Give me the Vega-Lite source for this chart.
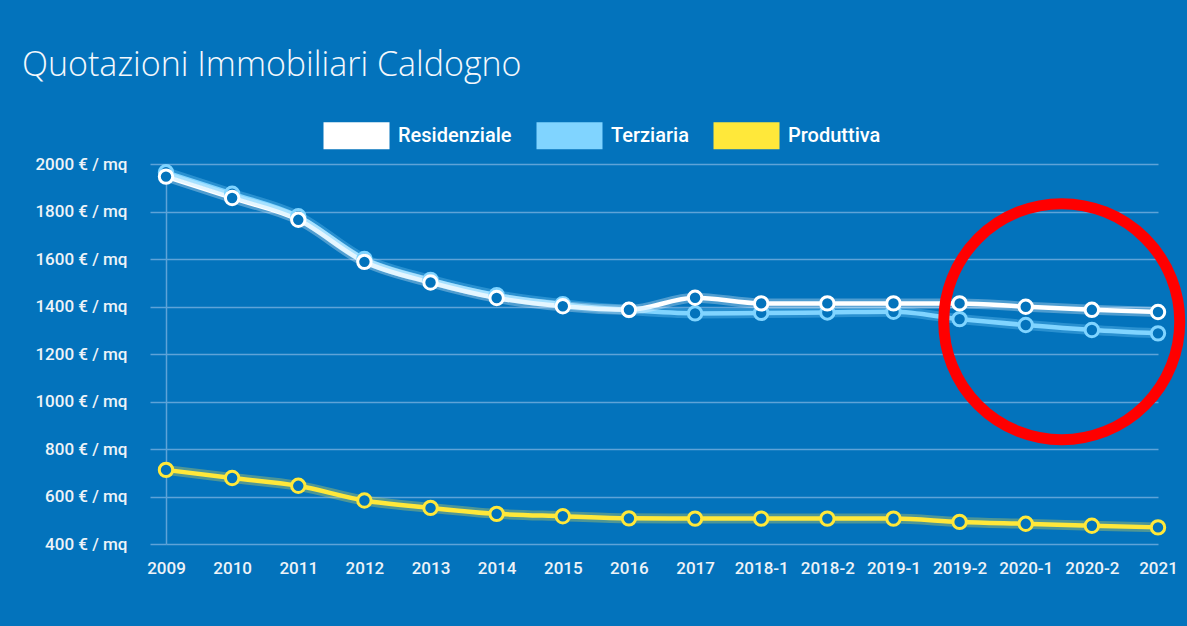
{
  "$schema": "https://vega.github.io/schema/vega-lite/v6.json",
  "autosize": {"type": "none"},
  "width": 992,
  "height": 380,
  "padding": {"left": 166, "top": 164, "right": 29, "bottom": 82},
  "background": "#0373BC",
  "title": {
    "text": "Quotazioni Immobiliari Caldogno",
    "anchor": "start",
    "frame": "group",
    "font": "Open Sans",
    "fontWeight": 300,
    "fontSize": 34,
    "color": "#F4F8FC",
    "baseline": "alphabetic",
    "dx": -144,
    "offset": 0,
    "dy": 21
  },
  "config": {
    "view": {"stroke": null},
    "font": "Roboto"
  },
  "data": {
    "values": [
      {"periodo": "2009", "serie": "Produttiva", "valore": 712},
      {"periodo": "2010", "serie": "Produttiva", "valore": 678},
      {"periodo": "2011", "serie": "Produttiva", "valore": 645},
      {"periodo": "2012", "serie": "Produttiva", "valore": 583},
      {"periodo": "2013", "serie": "Produttiva", "valore": 552},
      {"periodo": "2014", "serie": "Produttiva", "valore": 527},
      {"periodo": "2015", "serie": "Produttiva", "valore": 517},
      {"periodo": "2016", "serie": "Produttiva", "valore": 508},
      {"periodo": "2017", "serie": "Produttiva", "valore": 507},
      {"periodo": "2018-1", "serie": "Produttiva", "valore": 507},
      {"periodo": "2018-2", "serie": "Produttiva", "valore": 507},
      {"periodo": "2019-1", "serie": "Produttiva", "valore": 507},
      {"periodo": "2019-2", "serie": "Produttiva", "valore": 493},
      {"periodo": "2020-1", "serie": "Produttiva", "valore": 485},
      {"periodo": "2020-2", "serie": "Produttiva", "valore": 477},
      {"periodo": "2021", "serie": "Produttiva", "valore": 470},
      {"periodo": "2009", "serie": "Terziaria", "valore": 1965},
      {"periodo": "2010", "serie": "Terziaria", "valore": 1875},
      {"periodo": "2011", "serie": "Terziaria", "valore": 1780},
      {"periodo": "2012", "serie": "Terziaria", "valore": 1600},
      {"periodo": "2013", "serie": "Terziaria", "valore": 1512},
      {"periodo": "2014", "serie": "Terziaria", "valore": 1448},
      {"periodo": "2015", "serie": "Terziaria", "valore": 1410},
      {"periodo": "2016", "serie": "Terziaria", "valore": 1385},
      {"periodo": "2017", "serie": "Terziaria", "valore": 1371},
      {"periodo": "2018-1", "serie": "Terziaria", "valore": 1373},
      {"periodo": "2018-2", "serie": "Terziaria", "valore": 1375},
      {"periodo": "2019-1", "serie": "Terziaria", "valore": 1378},
      {"periodo": "2019-2", "serie": "Terziaria", "valore": 1347},
      {"periodo": "2020-1", "serie": "Terziaria", "valore": 1322},
      {"periodo": "2020-2", "serie": "Terziaria", "valore": 1301},
      {"periodo": "2021", "serie": "Terziaria", "valore": 1287},
      {"periodo": "2009", "serie": "Residenziale", "valore": 1947},
      {"periodo": "2010", "serie": "Residenziale", "valore": 1857},
      {"periodo": "2011", "serie": "Residenziale", "valore": 1765},
      {"periodo": "2012", "serie": "Residenziale", "valore": 1588},
      {"periodo": "2013", "serie": "Residenziale", "valore": 1501},
      {"periodo": "2014", "serie": "Residenziale", "valore": 1436},
      {"periodo": "2015", "serie": "Residenziale", "valore": 1401},
      {"periodo": "2016", "serie": "Residenziale", "valore": 1386},
      {"periodo": "2017", "serie": "Residenziale", "valore": 1437},
      {"periodo": "2018-1", "serie": "Residenziale", "valore": 1413},
      {"periodo": "2018-2", "serie": "Residenziale", "valore": 1413},
      {"periodo": "2019-1", "serie": "Residenziale", "valore": 1413},
      {"periodo": "2019-2", "serie": "Residenziale", "valore": 1413},
      {"periodo": "2020-1", "serie": "Residenziale", "valore": 1399},
      {"periodo": "2020-2", "serie": "Residenziale", "valore": 1386},
      {"periodo": "2021", "serie": "Residenziale", "valore": 1377}
    ]
  },
  "encoding": {
    "x": {
      "field": "periodo",
      "type": "ordinal",
      "sort": null,
      "scale": {"type": "point", "padding": 0},
      "axis": {
        "title": null,
        "labelAngle": 0,
        "ticks": false,
        "domain": false,
        "grid": false,
        "labelFont": "Roboto",
        "labelFontWeight": 500,
        "labelFontSize": 17,
        "labelColor": "#EEF3F8",
        "labelPadding": 16
      }
    },
    "y": {
      "field": "valore",
      "type": "quantitative",
      "scale": {"domain": [400, 2000], "nice": false, "zero": false},
      "axis": {
        "title": null,
        "values": [400, 600, 800, 1000, 1200, 1400, 1600, 1800, 2000],
        "labelExpr": "datum.value + ' € / mq'",
        "labelFont": "Roboto",
        "labelFontWeight": 500,
        "labelFontSize": 17,
        "labelColor": "#EEF3F8",
        "labelPadding": 23,
        "tickSize": 16,
        "tickColor": "#5EA3D8",
        "tickWidth": 1.5,
        "domain": true,
        "domainColor": "#5EA3D8",
        "domainWidth": 1.5,
        "grid": true,
        "gridColor": "#5EA3D8",
        "gridWidth": 1.5
      }
    }
  },
  "layer": [
    {
      "mark": {"type": "line", "strokeWidth": 4.5, "interpolate": "monotone"},
      "encoding": {
        "color": {"field": "serie", "type": "nominal",
          "scale": {"domain": ["Residenziale", "Terziaria", "Produttiva"], "range": ["#FFFFFF", "#80D4FF", "#FFE83A"]},
          "legend": {
            "title": null,
            "orient": "none",
            "direction": "horizontal",
            "legendX": 144,
            "legendY": -75,
            "symbolType": "stroke",
            "symbolSize": 4356,
            "symbolStrokeWidth": 27,
            "labelFont": "Roboto",
            "labelFontWeight": 500,
            "labelFontSize": 20,
            "labelColor": "#FFFFFF",
            "labelOffset": -5,
            "columnPadding": -30
          }
        }
      }
    },
    {
      "mark": {"type": "line", "strokeWidth": 10, "opacity": 0.3, "interpolate": "monotone"},
      "encoding": {
        "stroke": {"field": "serie", "type": "nominal", "legend": null,
          "scale": {"domain": ["Residenziale", "Terziaria", "Produttiva"], "range": ["#FFFFFF", "#80D4FF", "#FFE83A"]}}
      }
    },
    {
      "mark": {"type": "point", "filled": true, "fill": "#0373BC", "strokeWidth": 3, "size": 180, "opacity": 1},
      "encoding": {
        "stroke": {"field": "serie", "type": "nominal", "legend": null,
          "scale": {"domain": ["Residenziale", "Terziaria", "Produttiva"], "range": ["#FFFFFF", "#80D4FF", "#FFE83A"]}}
      }
    },
    {
      "data": {"values": [{"periodo": "2020-1", "valore": 1336}]},
      "mark": {"type": "point", "filled": false, "stroke": "#FF0000", "strokeWidth": 11, "size": 55696, "opacity": 1, "xOffset": 36},
      "encoding": {}
    }
  ]
}
